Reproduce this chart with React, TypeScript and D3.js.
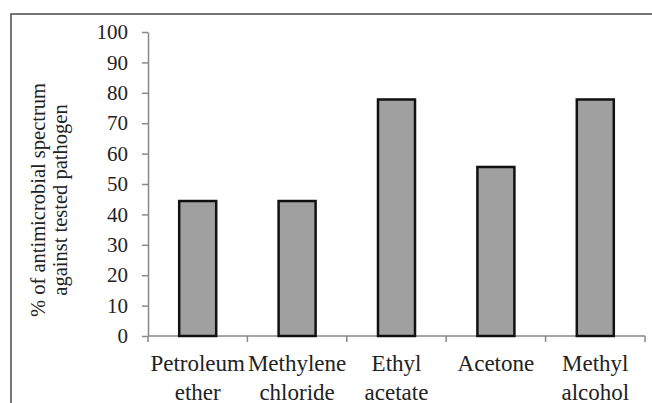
import { useEffect, useRef } from 'react'
import * as d3 from 'd3'

const categories = ['Petroleum ether', 'Methylene chloride', 'Ethyl acetate', 'Acetone', 'Methyl alcohol']
const labelLines = [['Petroleum', 'ether'], ['Methylene', 'chloride'], ['Ethyl', 'acetate'], ['Acetone'], ['Methyl', 'alcohol']]
const values = [44.4, 44.4, 77.8, 55.6, 77.8]
const yTicks = [0, 10, 20, 30, 40, 50, 60, 70, 80, 90, 100]
const yTitle = ['% of antimicrobial spectrum', 'against tested pathogen']

const W = 652
const H = 403
const X0 = 148
const X1 = 645
const Y0 = 336
const Y1 = 32
const FONT = 'Liberation Serif, Times New Roman, serif'

export default function App() {
  const svgRef = useRef<SVGSVGElement>(null)

  useEffect(() => {
    const svg = d3.select(svgRef.current)
    svg.selectAll('*').remove()

    // frame (cut off on the right and bottom)
    svg.append('rect')
      .attr('x', 11).attr('y', 14)
      .attr('width', W + 20).attr('height', H + 20)
      .attr('fill', 'none').attr('stroke', '#555').attr('stroke-width', 1.6)

    const x = d3.scaleBand<string>().domain(categories).range([X0, X1]).paddingInner(0).paddingOuter(0)
    const y = d3.scaleLinear().domain([0, 100]).range([Y0, Y1])

    // y axis
    const gy = svg.append('g').attr('transform', `translate(${X0},0)`)
      .call(d3.axisLeft(y).tickValues(yTicks).tickSize(6).tickSizeOuter(0).tickPadding(14))
    gy.attr('font-family', FONT).attr('font-size', 21)
    gy.select('.domain').attr('stroke', '#888').attr('stroke-width', 1.5)
    gy.selectAll('line').attr('stroke', '#888').attr('stroke-width', 1.5)
    gy.selectAll('text').attr('fill', '#222')

    // x axis line + ticks at band edges
    const gx = svg.append('g').attr('transform', `translate(0,${Y0})`)
    gx.append('line').attr('x1', X0).attr('x2', X1).attr('stroke', '#888').attr('stroke-width', 1.5)
    const edges = categories.map(c => x(c) ?? 0).concat([X1])
    gx.selectAll('line.tick').data(edges).join('line')
      .attr('class', 'tick')
      .attr('x1', d => d).attr('x2', d => d)
      .attr('y1', 0).attr('y2', 6)
      .attr('stroke', '#888').attr('stroke-width', 1.5)

    // bars
    const bw = 37
    svg.append('g').selectAll('rect').data(values).join('rect')
      .attr('x', (_, i) => (x(categories[i]) ?? 0) + x.bandwidth() / 2 - bw / 2)
      .attr('y', d => y(d))
      .attr('width', bw)
      .attr('height', d => Y0 - y(d))
      .attr('fill', '#a0a0a0')
      .attr('stroke', '#111')
      .attr('stroke-width', 2.5)

    // x labels
    const lg = svg.append('g').attr('font-family', FONT).attr('font-size', 23)
    labelLines.forEach((lines, i) => {
      const cx = (x(categories[i]) ?? 0) + x.bandwidth() / 2
      lines.forEach((t, j) => {
        lg.append('text')
          .attr('x', cx).attr('y', 371 + j * 29)
          .attr('text-anchor', 'middle')
          .attr('fill', '#222')
          .text(t)
      })
    })

    // y title
    const tg = svg.append('g').attr('font-family', FONT).attr('font-size', 20.5)
    yTitle.forEach((t, j) => {
      tg.append('text')
        .attr('transform', `translate(${45 + j * 22},200) rotate(-90)`)
        .attr('text-anchor', 'middle')
        .attr('fill', '#222')
        .text(t)
    })
  }, [])

  return (
    <svg ref={svgRef} width={W} height={H}
      style={{ position: 'absolute', left: 0, top: 0, background: '#fff' }} />
  )
}
